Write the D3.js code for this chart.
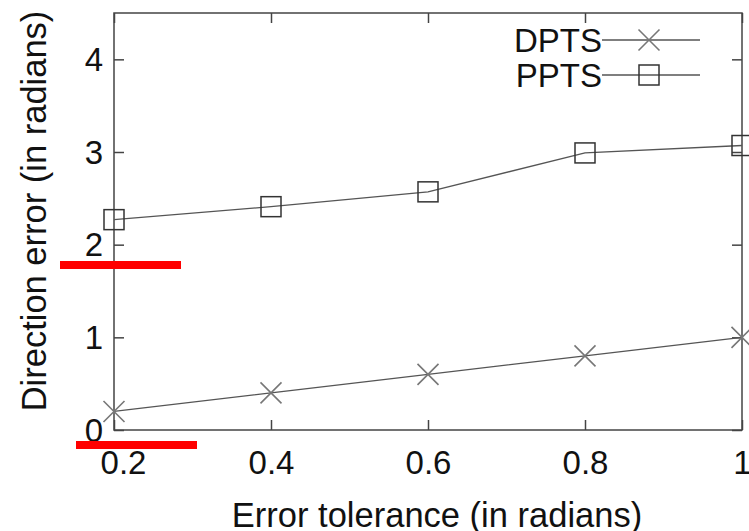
<!DOCTYPE html>
<html>
<head>
<meta charset="utf-8">
<script src="https://cdn.jsdelivr.net/npm/d3@7"></script>
<style>
  body { margin: 0; background: #fff; }
  svg { display: block; font-family: "Liberation Sans", Arial, sans-serif; }
</style>
</head>
<body>
<svg id="chart" width="749" height="531"></svg>
<script>
// values
const tolerance = [0.2, 0.4, 0.6, 0.8, 1.0];
const dpts = [0.2, 0.4, 0.6, 0.8, 1.0];
const ppts = [2.27, 2.41, 2.57, 2.99, 3.07];
const xTicks = [0.2, 0.4, 0.6, 0.8, 1.0];
const yTicks = [0, 1, 2, 3, 4];
const seriesNames = ["DPTS", "PPTS"];

const svg = d3.select("#chart");
const margin = {top: 13, right: 7, bottom: 101, left: 114};
const width = +svg.attr("width") - margin.left - margin.right;
const height = +svg.attr("height") - margin.top - margin.bottom;
const g = svg.append("g").attr("transform", `translate(${margin.left},${margin.top})`);

const x = d3.scaleLinear().domain([0.2, 1.0]).range([0, width]);
const y = d3.scaleLinear().domain([0, 4.5]).range([height, 0]);

const axisColor = "#444";
const fmt = d => d === 1 ? "1" : d3.format(".1f")(d);

// bottom axis (ticks inward)
const xAxis = g.append("g")
    .attr("transform", `translate(0,${height})`)
    .call(d3.axisBottom(x).tickValues(xTicks).tickFormat(fmt).tickSizeInner(-10).tickSizeOuter(0).tickPadding(21));
// left axis
const yAxis = g.append("g")
    .call(d3.axisLeft(y).tickValues(yTicks).tickFormat(d3.format("d")).tickSizeInner(-10).tickSizeOuter(0).tickPadding(11));
// mirrored ticks top / right
g.append("g")
    .call(d3.axisTop(x).tickValues(xTicks).tickFormat("").tickSizeInner(-10).tickSizeOuter(0));
g.append("g")
    .attr("transform", `translate(${width},0)`)
    .call(d3.axisRight(y).tickValues(yTicks).tickFormat("").tickSizeInner(-10).tickSizeOuter(0));

g.selectAll(".domain").remove();
g.selectAll(".tick line").attr("stroke", axisColor).attr("stroke-width", 1.5);
g.selectAll(".tick text").attr("fill", "#111").style("font-size", "33px");
yAxis.selectAll(".tick text").attr("dy", "0.34em");
// first x label sits a bit right of its tick, as in the reference
xAxis.selectAll(".tick text").filter(d => d === 0.2).attr("dx", 9);

// border box
g.append("rect")
    .attr("width", width)
    .attr("height", height)
    .attr("fill", "none")
    .attr("stroke", axisColor)
    .attr("stroke-width", 1.5);

// axis titles
svg.append("text")
    .attr("x", 437)
    .attr("y", 527)
    .attr("text-anchor", "middle")
    .style("font-size", "34.5px")
    .attr("fill", "#111")
    .text("Error tolerance (in radians)");

svg.append("text")
    .attr("transform", "translate(46,211) rotate(-90)")
    .attr("text-anchor", "middle")
    .style("font-size", "34.5px")
    .attr("fill", "#111")
    .text("Direction error (in radians)");

const line = d3.line().x(d => x(d[0])).y(d => y(d[1]));
const lineColor = "#555";

function crossPath(s) {
    return `M${-s},${-s}L${s},${s}M${-s},${s}L${s},${-s}`;
}

// DPTS
const dptsData = tolerance.map((t, i) => [t, dpts[i]]);
g.append("path")
    .datum(dptsData)
    .attr("d", line)
    .attr("fill", "none")
    .attr("stroke", lineColor)
    .attr("stroke-width", 1.3);
g.selectAll(".cross")
    .data(dptsData)
    .enter().append("path")
    .attr("class", "cross")
    .attr("transform", d => `translate(${x(d[0])},${y(d[1])})`)
    .attr("d", crossPath(10.5))
    .attr("stroke", "#777")
    .attr("stroke-width", 1.6)
    .attr("fill", "none");

// PPTS
const pptsData = tolerance.map((t, i) => [t, ppts[i]]);
g.append("path")
    .datum(pptsData)
    .attr("d", line)
    .attr("fill", "none")
    .attr("stroke", lineColor)
    .attr("stroke-width", 1.3);
g.selectAll(".square")
    .data(pptsData)
    .enter().append("rect")
    .attr("class", "square")
    .attr("x", d => x(d[0]) - 10)
    .attr("y", d => y(d[1]) - 10)
    .attr("width", 20)
    .attr("height", 20)
    .attr("fill", "none")
    .attr("stroke", "#333")
    .attr("stroke-width", 1.5);

// legend
const legend = svg.append("g").attr("transform", "translate(602,40)");
seriesNames.forEach((name, index) => {
    const row = legend.append("g").attr("transform", `translate(0,${index * 35})`);
    row.append("text")
        .attr("x", 0)
        .attr("y", 12)
        .attr("text-anchor", "end")
        .style("font-size", "33px")
        .attr("fill", "#111")
        .text(name);
    row.append("line")
        .attr("x1", 0).attr("x2", 98)
        .attr("stroke", lineColor)
        .attr("stroke-width", 1.3);
    if (index === 0) {
        row.append("path")
            .attr("transform", "translate(47,0)")
            .attr("d", crossPath(10.5))
            .attr("stroke", "#777")
            .attr("stroke-width", 1.6)
            .attr("fill", "none");
    } else {
        row.append("rect")
            .attr("x", 37).attr("y", -10)
            .attr("width", 20).attr("height", 20)
            .attr("fill", "none")
            .attr("stroke", "#333")
            .attr("stroke-width", 1.5);
    }
});

// red highlight strokes present in the reference
svg.append("rect").attr("x", 60).attr("y", 261).attr("width", 121).attr("height", 8).attr("fill", "#ff0000");
svg.append("rect").attr("x", 76).attr("y", 441).attr("width", 121).attr("height", 8).attr("fill", "#ff0000");
</script>
</body>
</html>
